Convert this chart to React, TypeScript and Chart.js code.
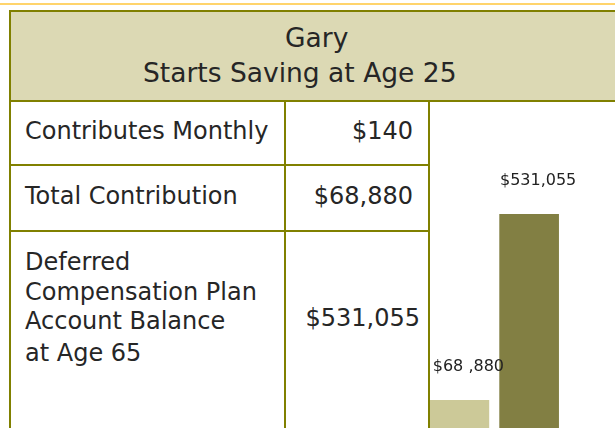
import React, { useEffect, useRef } from "react";
import { Chart, registerables } from "chart.js";

Chart.register(...registerables);

// ---- data ----
const categories = ["Total Contribution", "Account Balance at Age 65"];
const values = [68880, 531055];
const valueLabels = ["$68 ,880", "$531,055"];
const Y_MAX = 800000;

const headerLines = ["Gary", "Starts Saving at Age 25"];
const rowLabels = [
  ["Contributes Monthly"],
  ["Total Contribution"],
  ["Deferred", "Compensation Plan", "Account Balance", "at Age 65"],
];
const rowValues = ["$140", "$68,880", "$531,055"];

// ---- styles ----
const OLIVE = "#808000";
const HEADER_BG = "#DCD9B4";
const BAR_COLORS = ["#CCC998", "#827F43"];
const TEXT = "#262626";
const FONT = '"DejaVu Sans", Verdana, sans-serif';

const labelPlugin = {
  id: "valueLabels",
  afterDatasetsDraw(chart: any) {
    const ctx = chart.ctx;
    const meta = chart.getDatasetMeta(0);
    ctx.save();
    ctx.font = `16px ${FONT}`;
    ctx.fillStyle = "#222";
    ctx.textAlign = "center";
    ctx.textBaseline = "alphabetic";
    meta.data.forEach((bar: any, i: number) => {
      ctx.fillText(valueLabels[i], bar.x + 9, bar.y - 29.5);
    });
    ctx.restore();
  },
};

function BarChart() {
  const ref = useRef<HTMLCanvasElement | null>(null);
  useEffect(() => {
    if (!ref.current) return;
    const chart = new Chart(ref.current, {
      type: "bar",
      data: {
        labels: categories,
        datasets: [
          {
            data: values,
            backgroundColor: BAR_COLORS,
            borderWidth: 0,
            barThickness: 59,
          },
        ],
      },
      options: {
        responsive: false,
        animation: false,
        layout: { padding: { left: 0.5, right: 51, top: 4, bottom: 0 } },
        plugins: { legend: { display: false }, tooltip: { enabled: false } },
        scales: {
          x: { display: false, grid: { display: false } },
          y: { display: false, min: 0, max: Y_MAX, grid: { display: false } },
        },
      },
      plugins: [labelPlugin],
    });
    return () => chart.destroy();
  }, []);
  return (
    <canvas
      ref={ref}
      width={191}
      height={326}
      style={{ position: "absolute", left: 424, top: 102, width: 191, height: 326 }}
    />
  );
}

const abs = (s: React.CSSProperties): React.CSSProperties => ({ position: "absolute", ...s });

export default function App() {
  const text = (fs: number): React.CSSProperties => ({
    position: "absolute",
    fontFamily: FONT,
    fontSize: fs,
    lineHeight: `${fs}px`,
    color: TEXT,
    whiteSpace: "nowrap",
  });
  const deferredTops = [250.4, 279.7, 308.7, 341.4];
  return (
    <div
      style={{
        position: "absolute",
        left: 0,
        top: 0,
        width: 615,
        height: 428,
        overflow: "hidden",
        background: "#fff",
      }}
    >
      {/* top accent line */}
      <div style={abs({ left: 0, top: 3, width: 615, height: 2, background: "#FFD46C" })} />
      {/* header */}
      <div style={abs({ left: 9, top: 10, width: 606, height: 92, background: HEADER_BG })} />
      <div style={{ ...text(26.5), left: 285, top: 24.6 }}>{headerLines[0]}</div>
      <div style={{ ...text(26.5), left: 143, top: 59.6 }}>{headerLines[1]}</div>

      <BarChart />

      {/* borders */}
      <div style={abs({ left: 9, top: 10, width: 606, height: 2, background: OLIVE })} />
      <div style={abs({ left: 9, top: 100, width: 606, height: 2, background: OLIVE })} />
      <div style={abs({ left: 9, top: 10, width: 2, height: 418, background: OLIVE })} />
      <div style={abs({ left: 284, top: 100, width: 2, height: 328, background: OLIVE })} />
      <div style={abs({ left: 428, top: 100, width: 2, height: 328, background: OLIVE })} />
      <div style={abs({ left: 9, top: 164, width: 421, height: 2, background: OLIVE })} />
      <div style={abs({ left: 9, top: 230, width: 421, height: 2, background: OLIVE })} />

      {/* row texts */}
      <div style={{ ...text(24), left: 25, top: 119 }}>{rowLabels[0][0]}</div>
      <div style={{ ...text(24), right: 615 - 413, top: 119 }}>{rowValues[0]}</div>
      <div style={{ ...text(24), left: 25, top: 183.7 }}>{rowLabels[1][0]}</div>
      <div style={{ ...text(24), right: 615 - 413, top: 183.7 }}>{rowValues[1]}</div>
      {rowLabels[2].map((l, i) => (
        <div key={i} style={{ ...text(24), left: 25, top: deferredTops[i] }}>
          {l}
        </div>
      ))}
      <div style={{ ...text(24), right: 615 - 420, top: 305.7 }}>{rowValues[2]}</div>
    </div>
  );
}
